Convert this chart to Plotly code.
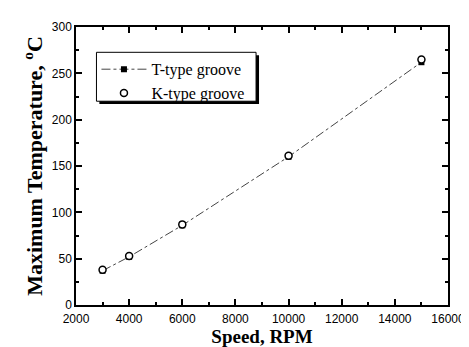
import plotly.graph_objects as go

speed = [3000, 4000, 6000, 10000, 15000]
t_type = [37, 52, 86, 160, 262]
k_type = [38, 53, 87, 161, 265]

x_ticks = [2000, 4000, 6000, 8000, 10000, 12000, 14000, 16000]
y_ticks = [0, 50, 100, 150, 200, 250, 300]

fig = go.Figure()
fig.add_trace(go.Scatter(
    x=speed, y=t_type, name="T-type groove", mode="lines+markers",
    line=dict(color="#444444", width=1, dash="dashdot"),
    marker=dict(symbol="square", size=6, color="black"),
))
fig.add_trace(go.Scatter(
    x=speed, y=k_type, name="K-type groove", mode="markers",
    marker=dict(symbol="circle", size=7, color="white", line=dict(width=1.5, color="black")),
))

axis_common = dict(
    showline=True, linecolor="black", linewidth=1.5, mirror="ticks",
    ticks="inside", ticklen=6, tickcolor="black", tickwidth=1.5,
    showgrid=False, zeroline=False,
    tickfont=dict(family="Liberation Sans, Arial", size=12, color="black"),
)

fig.update_xaxes(
    range=[2000, 16000], tickvals=x_ticks, ticktext=[str(v) for v in x_ticks],
    minor=dict(ticks="inside", ticklen=3, tickcolor="black", dtick=1000, showgrid=False),
    ticklabelstandoff=2,
    title=dict(text="<b>Speed, RPM</b>", standoff=0,
               font=dict(family="Liberation Serif, Times New Roman", size=19, color="black")),
    **axis_common,
)
fig.update_yaxes(
    range=[0, 300], tickvals=y_ticks, ticktext=[str(v) for v in y_ticks],
    minor=dict(ticks="inside", ticklen=3, tickcolor="black", dtick=25, showgrid=False),
    title=dict(text="<b>Maximum Temperature, <sup>o</sup>C</b>", standoff=3,
               font=dict(family="Liberation Serif, Times New Roman", size=22, color="black")),
    **axis_common,
)

# legend frame with drop shadow
fig.add_shape(type="rect", xref="paper", yref="paper",
              x0=0.0628, x1=0.492, y0=0.7228, y1=0.898,
              fillcolor="black", line=dict(width=0), layer="below")
fig.add_shape(type="rect", xref="paper", yref="paper",
              x0=0.055, x1=0.484, y0=0.733, y1=0.909,
              fillcolor="white", line=dict(width=1, color="black"), layer="below")

fig.update_layout(
    width=469, height=347,
    margin=dict(l=68, r=19, t=14, b=50),
    plot_bgcolor="white", paper_bgcolor="white",
    showlegend=True,
    legend=dict(
        x=0.055, y=0.909, xanchor="left", yanchor="top",
        bgcolor="rgba(0,0,0,0)", borderwidth=0,
        font=dict(family="Liberation Serif, Times New Roman", size=16, color="black"),
        tracegroupgap=0, itemwidth=45,
    ),
)

fig.write_html("out.html")
